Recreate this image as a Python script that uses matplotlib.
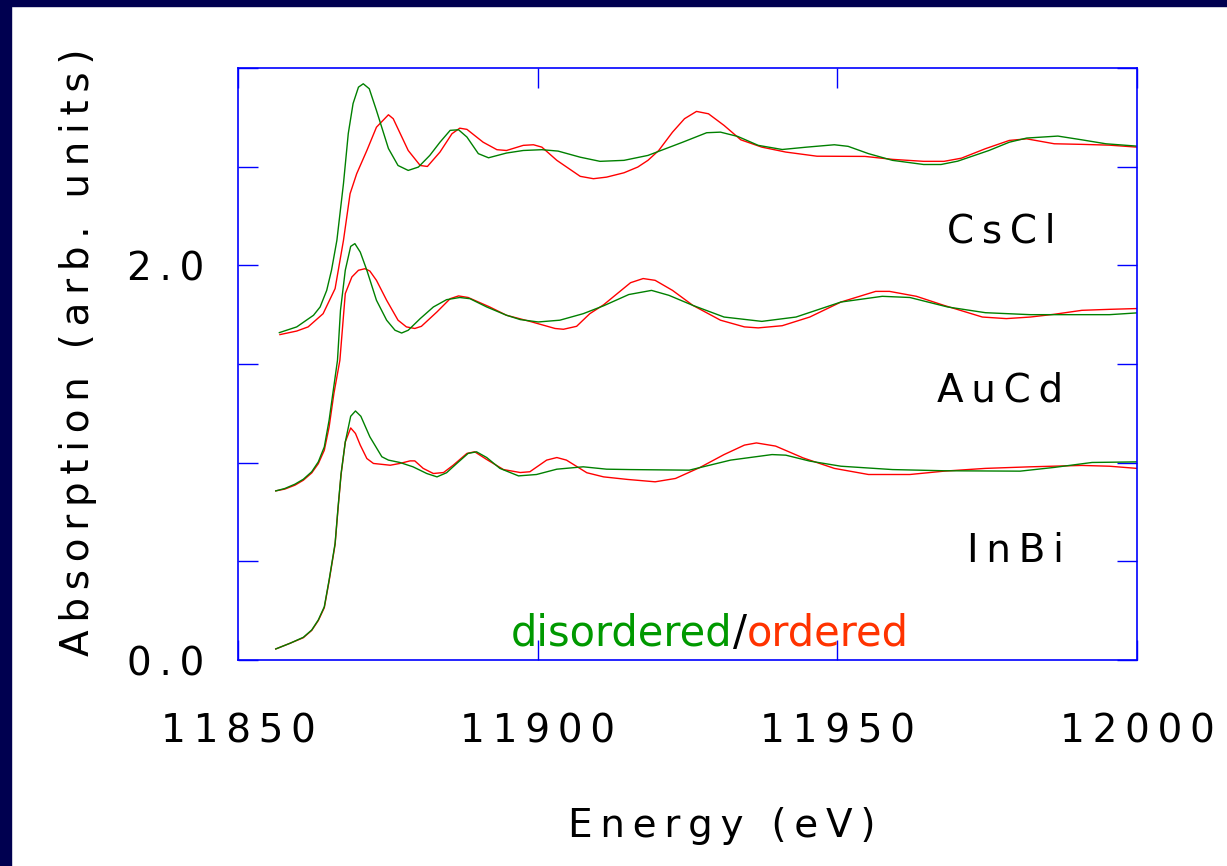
import matplotlib
matplotlib.use("Agg")
import matplotlib.pyplot as plt
from matplotlib.patches import Rectangle

# -----------------------------
# 1. Data
# -----------------------------
# CsCl edge, disordered (green) and ordered (red)
cscl_dis_e = [11856.9, 11859.8, 11862.6, 11863.7, 11864.8, 11865.6, 11866.5, 11867.6, 11868.4, 11869.2,
              11870.1, 11870.9, 11871.9, 11873.1, 11875.1, 11876.7, 11878.4, 11880.1, 11882.0, 11883.7,
              11885.4, 11886.8, 11888.2, 11890.1, 11891.8, 11894.8, 11897.6, 11900.7, 11903.4, 11907.1,
              11910.4, 11914.4, 11918.4, 11924.2, 11928.2, 11930.5, 11933.4, 11936.8, 11940.8, 11944.9,
              11949.5, 11951.8, 11955.2, 11959.2, 11964.4, 11967.3, 11970.1, 11975.3, 11978.7, 11981.6,
              11986.8, 11990.8, 11994.8, 12000.0]
cscl_dis_mu = [1.659, 1.688, 1.747, 1.789, 1.873, 1.975, 2.127, 2.415, 2.668, 2.820,
               2.903, 2.920, 2.895, 2.785, 2.592, 2.506, 2.481, 2.498, 2.557, 2.624,
               2.684, 2.687, 2.650, 2.566, 2.545, 2.569, 2.582, 2.586, 2.579, 2.548,
               2.527, 2.532, 2.557, 2.624, 2.672, 2.675, 2.653, 2.608, 2.587, 2.599,
               2.611, 2.603, 2.566, 2.532, 2.511, 2.511, 2.528, 2.582, 2.624, 2.645,
               2.655, 2.636, 2.616, 2.604]

cscl_ord_e = [11857.0, 11859.8, 11861.7, 11864.2, 11866.2, 11867.6, 11868.7, 11869.8, 11871.5, 11873.1,
              11875.1, 11875.9, 11878.4, 11880.4, 11881.6, 11883.7, 11885.7, 11887.0, 11888.2, 11890.9,
              11893.2, 11894.8, 11897.6, 11899.3, 11900.7, 11903.2, 11907.1, 11909.3, 11911.5, 11914.4,
              11916.7, 11918.4, 11920.2, 11922.5, 11924.5, 11926.5, 11928.5, 11931.1, 11933.9, 11937.4,
              11941.4, 11946.6, 11954.6, 11959.2, 11964.4, 11967.8, 11970.7, 11974.7, 11978.7, 11981.6,
              11986.2, 11990.8, 11995.4, 12000.0]
cscl_ord_mu = [1.649, 1.667, 1.688, 1.755, 1.882, 2.127, 2.363, 2.464, 2.582, 2.700,
               2.763, 2.743, 2.582, 2.506, 2.501, 2.574, 2.667, 2.695, 2.689, 2.624,
               2.586, 2.582, 2.608, 2.611, 2.599, 2.532, 2.451, 2.439, 2.447, 2.469,
               2.498, 2.532, 2.582, 2.675, 2.743, 2.780, 2.768, 2.709, 2.636, 2.599,
               2.574, 2.553, 2.552, 2.537, 2.527, 2.527, 2.543, 2.591, 2.633, 2.641,
               2.616, 2.613, 2.609, 2.599]

# AuCd edge
aucd_dis_e = [11856.3, 11857.8, 11859.5, 11860.9, 11862.3, 11863.4, 11864.4, 11865.2, 11865.9, 11866.6,
              11867.1, 11867.9, 11868.8, 11869.5, 11870.4, 11871.5, 11873.1, 11874.8, 11876.2, 11877.3,
              11878.4, 11880.4, 11882.6, 11884.8, 11887.0, 11888.7, 11891.5, 11894.8, 11897.1, 11900.1,
              11903.7, 11907.6, 11911.0, 11915.2, 11919.0, 11921.9, 11925.9, 11931.1, 11937.4, 11943.1,
              11950.6, 11957.5, 11962.1, 11968.4, 11974.7, 11982.2, 11990.8, 11995.4, 12000.0]
aucd_dis_mu = [0.857, 0.869, 0.891, 0.916, 0.954, 1.004, 1.080, 1.215, 1.367, 1.519,
               1.772, 1.975, 2.096, 2.110, 2.067, 1.975, 1.823, 1.722, 1.671, 1.657,
               1.671, 1.730, 1.789, 1.826, 1.837, 1.831, 1.789, 1.747, 1.725, 1.713,
               1.722, 1.755, 1.795, 1.852, 1.873, 1.848, 1.797, 1.738, 1.716, 1.738,
               1.814, 1.843, 1.837, 1.789, 1.760, 1.750, 1.750, 1.750, 1.759]

aucd_ord_e = [11856.3, 11857.8, 11859.5, 11860.9, 11862.3, 11863.4, 11864.4, 11865.2, 11866.0, 11867.0,
              11867.9, 11869.0, 11870.1, 11871.2, 11872.0, 11873.1, 11874.8, 11876.7, 11878.1, 11879.5,
              11880.6, 11883.2, 11885.4, 11886.8, 11888.4, 11892.0, 11894.8, 11898.7, 11902.9, 11904.3,
              11906.5, 11908.7, 11911.0, 11915.5, 11917.6, 11919.6, 11922.5, 11925.9, 11930.5, 11934.5,
              11936.8, 11940.8, 11945.4, 11950.6, 11956.4, 11958.7, 11963.2, 11967.8, 11974.2, 11978.2,
              11982.2, 11986.2, 11990.8, 11995.4, 12000.0]
aucd_ord_mu = [0.857, 0.866, 0.886, 0.911, 0.948, 0.995, 1.063, 1.180, 1.350, 1.519,
               1.857, 1.941, 1.975, 1.983, 1.971, 1.924, 1.823, 1.722, 1.688, 1.680,
               1.691, 1.764, 1.831, 1.845, 1.837, 1.789, 1.747, 1.716, 1.680, 1.676,
               1.691, 1.755, 1.800, 1.912, 1.933, 1.924, 1.873, 1.797, 1.722, 1.688,
               1.683, 1.694, 1.738, 1.814, 1.868, 1.868, 1.843, 1.797, 1.738, 1.730,
               1.738, 1.752, 1.772, 1.777, 1.781]

# InBi edge
inbi_dis_e = [11856.3, 11858.7, 11860.9, 11862.3, 11863.4, 11864.4, 11865.2, 11866.2, 11866.7, 11867.2,
              11867.9, 11868.8, 11869.6, 11870.5, 11872.0, 11874.0, 11875.1, 11877.0, 11879.2, 11881.5,
              11883.2, 11884.8, 11886.5, 11888.4, 11889.8, 11891.5, 11893.7, 11896.8, 11899.8, 11903.2,
              11907.6, 11911.5, 11915.4, 11925.3, 11932.2, 11939.1, 11941.4, 11945.4, 11950.6, 11959.2,
              11967.8, 11980.5, 11986.2, 11992.5, 12000.0]
inbi_dis_mu = [0.056, 0.085, 0.115, 0.152, 0.203, 0.270, 0.405, 0.591, 0.776, 0.945,
               1.105, 1.235, 1.262, 1.235, 1.131, 1.030, 1.013, 1.001, 0.979, 0.945,
               0.928, 0.949, 0.996, 1.047, 1.055, 1.026, 0.971, 0.933, 0.940, 0.967,
               0.979, 0.967, 0.965, 0.962, 1.013, 1.041, 1.038, 1.008, 0.982, 0.965,
               0.959, 0.957, 0.976, 1.001, 1.004]

inbi_ord_e = [11856.3, 11858.7, 11860.9, 11862.3, 11863.4, 11864.4, 11865.2, 11866.2, 11866.7, 11867.2,
              11867.9, 11868.8, 11869.6, 11870.4, 11871.5, 11872.6, 11875.4, 11877.0, 11878.7, 11879.5,
              11880.9, 11882.6, 11884.3, 11885.9, 11888.2, 11889.5, 11891.5, 11894.3, 11897.1, 11898.7,
              11901.5, 11903.2, 11904.8, 11908.2, 11911.0, 11915.0, 11919.6, 11923.0, 11927.1, 11931.1,
              11934.5, 11936.5, 11939.7, 11944.3, 11949.5, 11955.2, 11962.1, 11967.8, 11974.7, 11982.2,
              11990.8, 11995.4, 12000.0]
inbi_ord_mu = [0.056, 0.085, 0.113, 0.150, 0.200, 0.265, 0.400, 0.585, 0.770, 0.940,
               1.105, 1.176, 1.148, 1.089, 1.021, 0.996, 0.987, 0.996, 1.009, 1.009,
               0.971, 0.945, 0.950, 0.987, 1.047, 1.055, 1.016, 0.965, 0.950, 0.954,
               1.013, 1.026, 1.013, 0.949, 0.928, 0.915, 0.903, 0.920, 0.976, 1.041,
               1.089, 1.100, 1.084, 1.024, 0.971, 0.940, 0.940, 0.957, 0.971, 0.979,
               0.986, 0.982, 0.971]

x_ticks = [11850, 11900, 11950, 12000]
y_ticks = [0.0, 0.5, 1.0, 1.5, 2.0, 2.5, 3.0]
y_tick_labels = ["0.0", "", "", "", "2.0", "", ""]

compounds = ["CsCl", "AuCd", "InBi"]
compound_e = [11977.3, 11977.1, 11979.8]
compound_mu = [2.116, 1.309, 0.498]

GREEN = "#008000"
RED = "#ff0000"
NAVY = "#000050"
THIN = "\u2009"


def spaced(s):
    # wide letter spacing like the original slide font
    return THIN.join(s)


# -----------------------------
# 2. Figure and slide frame
# -----------------------------
plt.rcParams["font.family"] = "DejaVu Sans"
fig = plt.figure(figsize=(12.27, 8.66), dpi=100)
fig.add_artist(Rectangle((0, 0), 11 / 1227, 1, transform=fig.transFigure, color=NAVY, zorder=0))
fig.add_artist(Rectangle((0, 1 - 6 / 866), 1, 6 / 866, transform=fig.transFigure, color=NAVY, zorder=0))

ax = fig.add_axes([238 / 1227, 206 / 866, 899 / 1227, 592 / 866])

# -----------------------------
# 3. Curves
# -----------------------------
pairs = [
    (cscl_dis_e, cscl_dis_mu, cscl_ord_e, cscl_ord_mu),
    (aucd_dis_e, aucd_dis_mu, aucd_ord_e, aucd_ord_mu),
    (inbi_dis_e, inbi_dis_mu, inbi_ord_e, inbi_ord_mu),
]
for de, dm, oe, om in pairs:
    ax.plot(oe, om, color=RED, lw=1.0)
    ax.plot(de, dm, color=GREEN, lw=1.0)

for name, e, mu in zip(compounds, compound_e, compound_mu):
    ax.text(e, mu, spaced(name), fontsize=28, ha="center", va="baseline")

# disordered / ordered key in three colours
t1 = ax.text(11895.55, 0.076, "disordered", color="#009900", fontsize=30, ha="left", va="baseline")
t2 = ax.annotate("/", xy=(1, 0), xycoords=t1, color="black", fontsize=30, ha="left", va="bottom")
ax.annotate("ordered", xy=(1, 0), xycoords=t2, color="#ff3300", fontsize=30, ha="left", va="bottom")

# -----------------------------
# 4. Axes styling
# -----------------------------
ax.set_xlim(11850, 12000)
ax.set_ylim(0, 3.0)
ax.set_xticks(x_ticks, [spaced(str(t)) for t in x_ticks])
ax.set_yticks(y_ticks, [spaced(t) for t in y_tick_labels])
ax.tick_params(axis="both", direction="in", length=14.4, width=1.0, color="blue",
               top=True, right=True, labelsize=28)
ax.tick_params(axis="x", pad=38)
ax.tick_params(axis="y", pad=24)
for sp in ax.spines.values():
    sp.set_color("blue")
    sp.set_linewidth(1.2)

fig.text(78 / 1227, 1 - 352 / 866, spaced("Absorption (arb. units)"), rotation=90,
         fontsize=28, ha="center", va="center")
fig.text(722 / 1227, 1 - 826 / 866, spaced("Energy (eV)"), fontsize=28, ha="center", va="center")

fig.savefig("out.png", dpi=100, facecolor="white")
